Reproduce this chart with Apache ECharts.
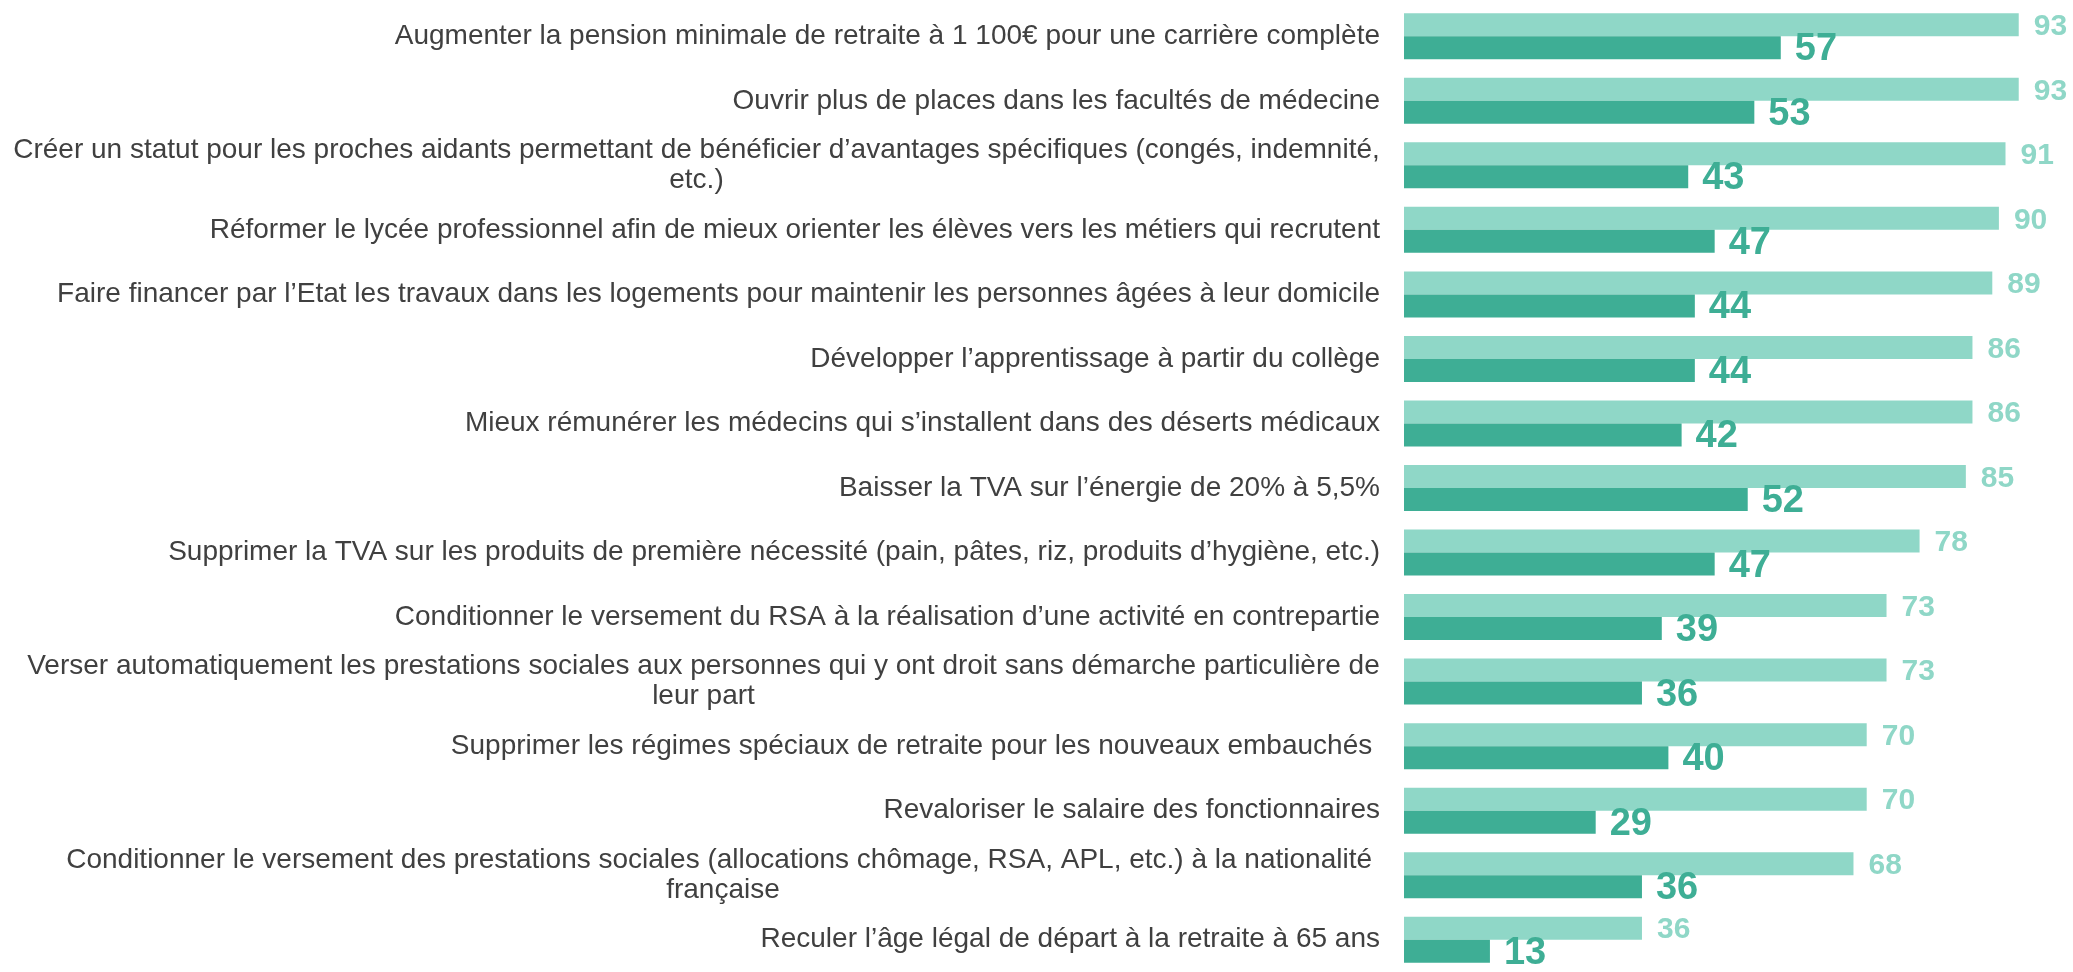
<!DOCTYPE html>
<html>
<head>
<meta charset="utf-8">
<script src="https://cdn.jsdelivr.net/npm/echarts@6/dist/echarts.min.js"></script>
<style>
  html, body { margin: 0; padding: 0; background: #fff; }
  #chart { width: 2073px; height: 972px; }
</style>
</head>
<body>
<div id="chart"></div>
<script>
// mesures proposées (libellés de l'axe)
const categories = [
  'Augmenter la pension minimale de retraite à 1 100€ pour une carrière complète',
  'Ouvrir plus de places dans les facultés de médecine',
  'Créer un statut pour les proches aidants permettant de bénéficier d’avantages spécifiques (congés, indemnité,\netc.)',
  'Réformer le lycée professionnel afin de mieux orienter les élèves vers les métiers qui recrutent',
  'Faire financer par l’Etat les travaux dans les logements pour maintenir les personnes âgées à leur domicile',
  'Développer l’apprentissage à partir du collège',
  'Mieux rémunérer les médecins qui s’installent dans des déserts médicaux',
  'Baisser la TVA sur l’énergie de 20% à 5,5%',
  'Supprimer la TVA sur les produits de première nécessité (pain, pâtes, riz, produits d’hygiène, etc.)',
  'Conditionner le versement du RSA à la réalisation d’une activité en contrepartie',
  'Verser automatiquement les prestations sociales aux personnes qui y ont droit sans démarche particulière de\nleur part',
  'Supprimer les régimes spéciaux de retraite pour les nouveaux embauchés ',
  'Revaloriser le salaire des fonctionnaires',
  'Conditionner le versement des prestations sociales (allocations chômage, RSA, APL, etc.) à la nationalité \nfrançaise',
  'Reculer l’âge légal de départ à la retraite à 65 ans'
]
// barres claires (total)
const lightValues = [93, 93, 91, 90, 89, 86, 86, 85, 78, 73, 73, 70, 70, 68, 36]
// barres foncées
const darkValues = [57, 53, 43, 47, 44, 44, 42, 52, 47, 39, 36, 40, 29, 36, 13]

const FONT = 'Arial'
const LABEL_SIZE = 28

// largeur de la ligne la plus longue, pour centrer les libellés sur deux lignes
const ctx = document.createElement('canvas').getContext('2d')
ctx.font = LABEL_SIZE + 'px ' + FONT
const rich = {}
categories.forEach((c, i) => {
  const lines = c.split('\n')
  if (lines.length > 1) {
    const w = Math.max(...lines.map(l => ctx.measureText(l).width))
    rich['w' + i] = { width: Math.ceil(w), align: 'center', fontSize: LABEL_SIZE, lineHeight: 30, color: '#404040', fontFamily: FONT }
  }
})

const chart = echarts.init(document.getElementById('chart'))
chart.setOption({
  animation: false,
  textStyle: { fontFamily: FONT },
  grid: { left: 1404, width: 661, top: 4, height: 975, containLabel: false },
  xAxis: {
    type: 'value',
    min: 0,
    max: 100,
    show: false
  },
  yAxis: {
    type: 'category',
    inverse: true,
    data: categories,
    axisLine: { show: false },
    axisTick: { show: false },
    axisLabel: {
      margin: 24,
      fontSize: LABEL_SIZE,
      lineHeight: 30,
      color: '#404040',
      fontFamily: FONT,
      formatter: function (value, index) {
        const lines = value.split('\n')
        if (lines.length === 1) return value
        return lines.map(l => '{w' + index + '|' + l + '}').join('\n')
      },
      rich: rich
    }
  },
  series: [
    {
      type: 'bar',
      data: lightValues,
      barWidth: 23,
      barGap: '0%',
      itemStyle: { color: '#8fd7c7' },
      label: {
        show: true,
        position: 'right',
        distance: 15,
        offset: [0, 2],
        color: '#8fd7c7',
        fontSize: 30,
        fontWeight: 'bold',
        fontFamily: FONT
      }
    },
    {
      type: 'bar',
      data: darkValues,
      barWidth: 23,
      barGap: '0%',
      itemStyle: { color: '#3eae95' },
      label: {
        show: true,
        position: 'right',
        distance: 14,
        offset: [0, 2],
        color: '#3eae95',
        fontSize: 38,
        fontWeight: 'bold',
        fontFamily: FONT
      }
    }
  ]
})
</script>
</body>
</html>
